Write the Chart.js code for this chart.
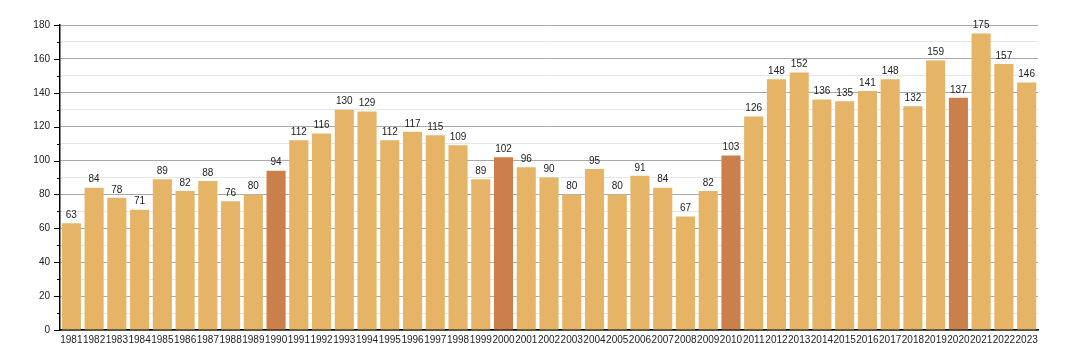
<!DOCTYPE html>
<html>
<head>
<meta charset="utf-8">
<script src="https://cdn.jsdelivr.net/npm/chart.js@4.4.0/dist/chart.umd.min.js"></script>
<style>
html,body{margin:0;padding:0;background:#fff;}
#wrap{width:1068px;height:360px;position:relative;}
</style>
</head>
<body>
<div id="wrap"><canvas id="c" width="1068" height="360"></canvas></div>
<script>
const years = ["1981","1982","1983","1984","1985","1986","1987","1988","1989","1990","1991","1992","1993","1994","1995","1996","1997","1998","1999","2000","2001","2002","2003","2004","2005","2006","2007","2008","2009","2010","2011","2012","2013","2014","2015","2016","2017","2018","2019","2020","2021","2022","2023"];
const values = [63,84,78,71,89,82,88,76,80,94,112,116,130,129,112,117,115,109,89,102,96,90,80,95,80,91,84,67,82,103,126,148,152,136,135,141,148,132,159,137,175,157,146];
const highlightYears = ["1990","2000","2010","2020"];
const yTicks = [0,20,40,60,80,100,120,140,160,180];

const normalColor = "#E5B467";
const highColor = "#CB7F4B";
const colors = years.map(y => highlightYears.includes(y) ? highColor : normalColor);

const valueLabels = {
  id: "valueLabels",
  afterDatasetsDraw(chart) {
    const ctx = chart.ctx;
    const meta = chart.getDatasetMeta(0);
    ctx.save();
    ctx.font = "10px 'Liberation Sans', Arial, sans-serif";
    ctx.fillStyle = "#222";
    ctx.textAlign = "center";
    ctx.textBaseline = "bottom";
    meta.data.forEach((bar, i) => {
      ctx.fillText(String(values[i]), bar.x, bar.y - 3);
    });
    ctx.restore();
  }
};

const tickMarks = {
  id: "tickMarks",
  afterDraw(chart) {
    const ctx = chart.ctx;
    const ys = chart.scales.y;
    const x0 = chart.chartArea.left;
    ctx.save();
    ctx.strokeStyle = "#000";
    ctx.lineWidth = 1;
    for (let v = 0; v <= 180; v += 10) {
      const py = Math.round(ys.getPixelForValue(v)) + 0.5;
      const len = (v % 20 === 0) ? 6 : 3;
      ctx.beginPath();
      ctx.moveTo(x0 - len, py);
      ctx.lineTo(x0, py);
      ctx.stroke();
    }
    ctx.restore();
  }
};

new Chart(document.getElementById("c"), {
  type: "bar",
  data: {
    labels: years,
    datasets: [{
      data: values,
      backgroundColor: colors,
      borderWidth: 0,
      barPercentage: 0.84,
      categoryPercentage: 1.0
    }]
  },
  options: {
    responsive: false,
    animation: false,
    devicePixelRatio: 1,
    layout: { padding: { top: 25, right: 30, left: 0, bottom: 0 } },
    plugins: { legend: { display: false }, tooltip: { enabled: false } },
    scales: {
      x: {
        grid: { display: false, drawTicks: false },
        border: { display: true, color: "#000", width: 1.5 },
        ticks: {
          autoSkip: false,
          maxRotation: 0,
          padding: 4,
          color: "#222",
          font: { family: "'Liberation Sans', Arial, sans-serif", size: 10 }
        },
        afterFit(s) { s.height = 30; }
      },
      y: {
        min: 0,
        max: 180,
        border: { display: true, color: "#000", width: 1.5 },
        grid: {
          drawTicks: false,
          color: ctx => (ctx.tick && ctx.tick.value % 20 === 0) ? "#aaaaaa" : "#e6e6e6",
          lineWidth: 1
        },
        ticks: {
          stepSize: 10,
          padding: 10,
          color: "#222",
          font: { family: "'Liberation Sans', Arial, sans-serif", size: 10 },
          callback: v => yTicks.includes(v) ? String(v) : ""
        },
        afterFit(s) { s.width = 60; }
      }
    }
  },
  plugins: [valueLabels, tickMarks]
});
</script>
</body>
</html>
